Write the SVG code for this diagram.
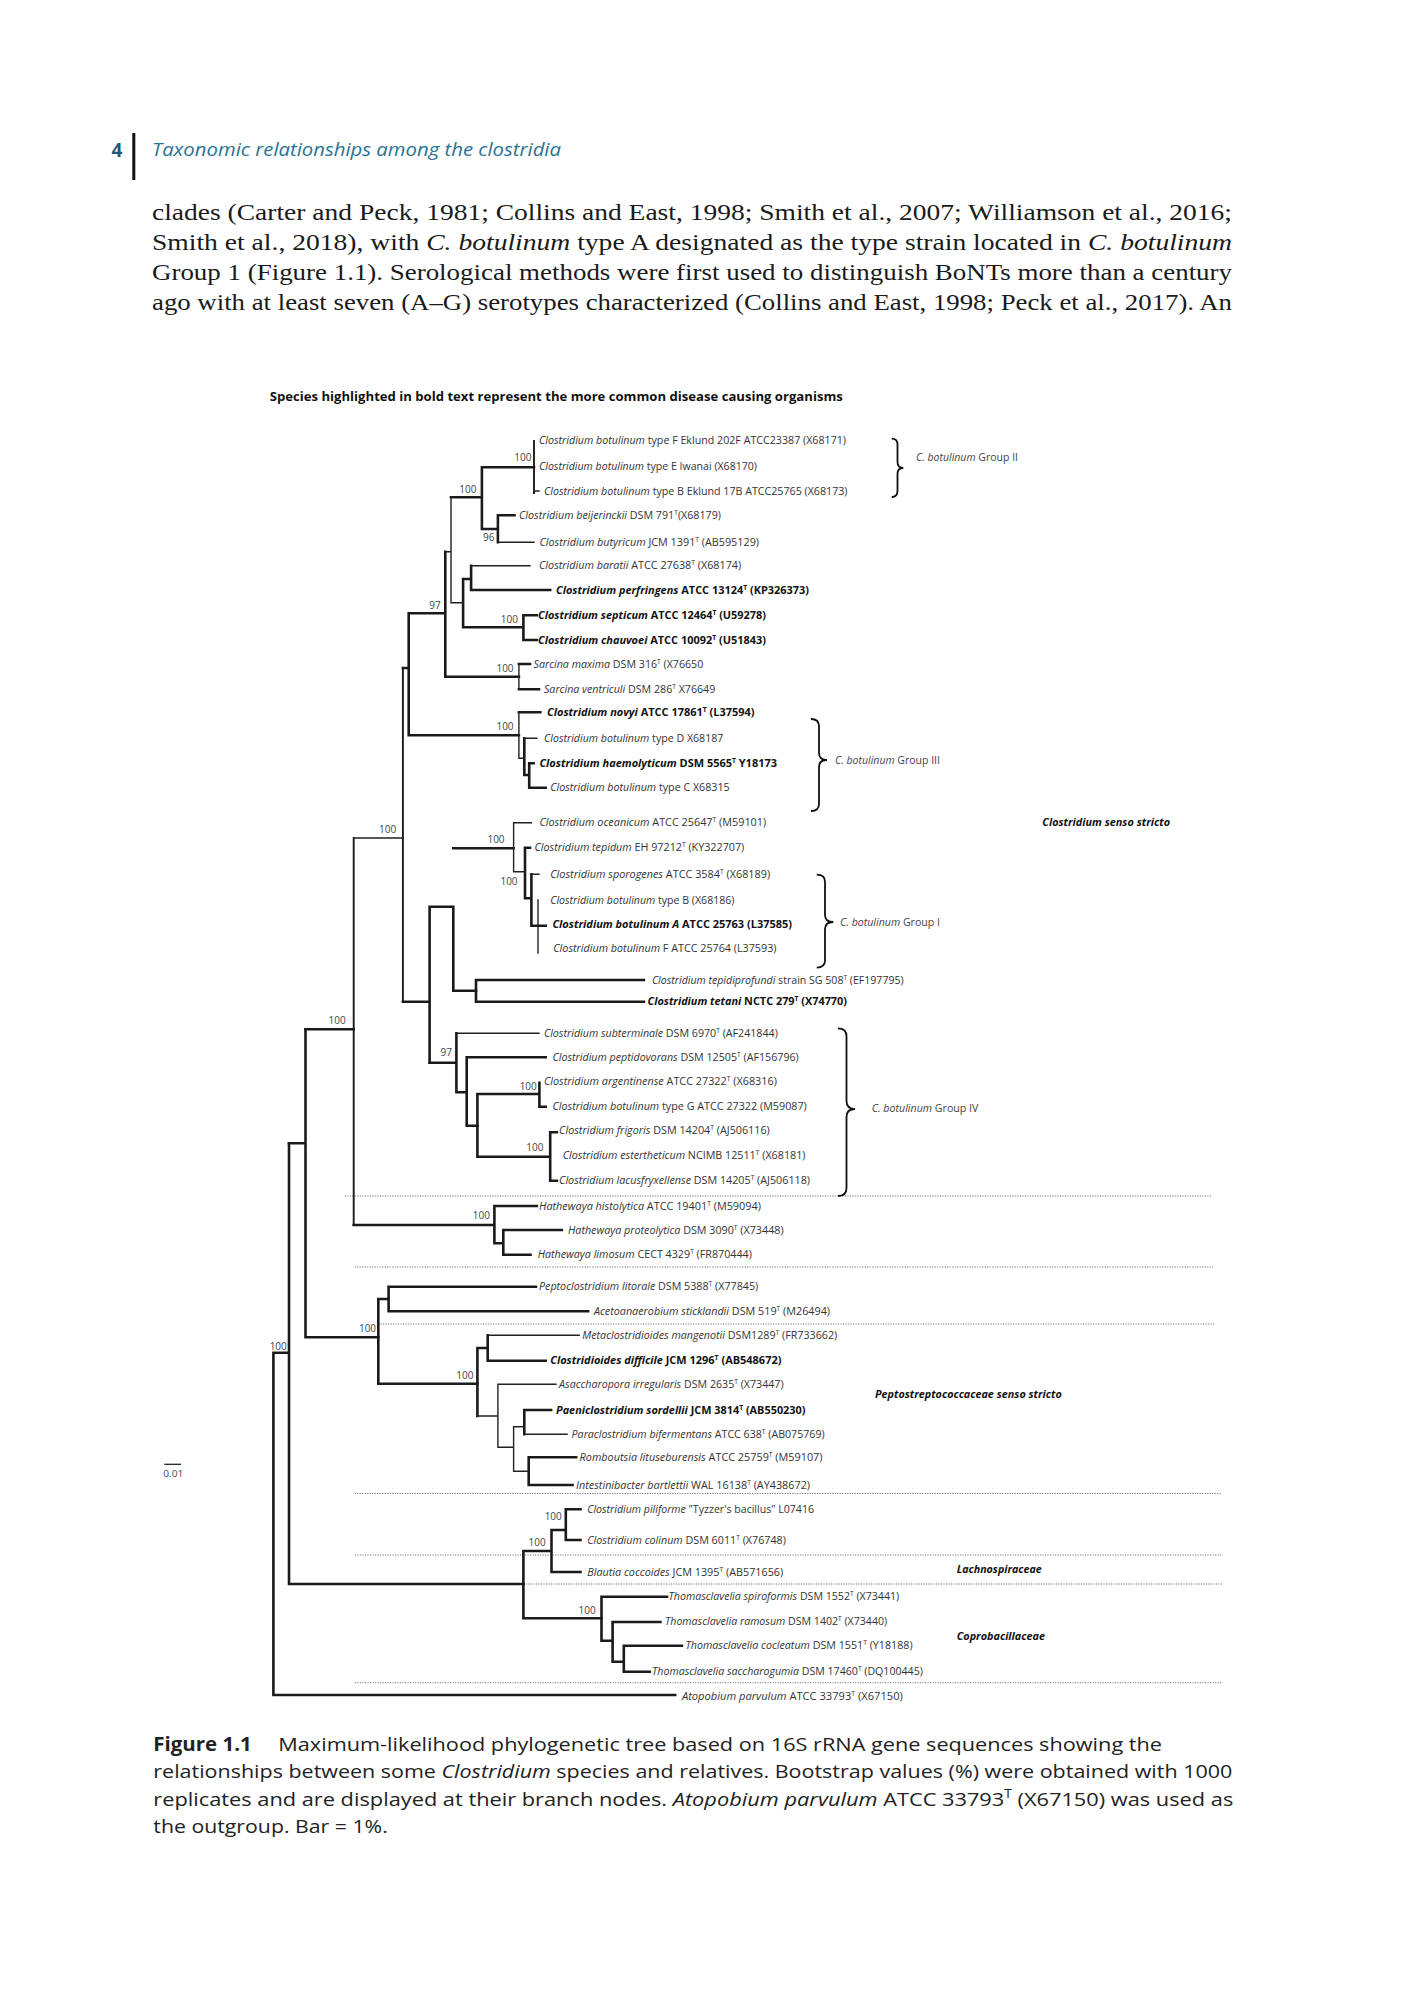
<svg xmlns="http://www.w3.org/2000/svg" width="1402" height="2000" viewBox="0 0 1402 2000">
<style>
.lb{font-family:"Open Sans","Liberation Sans",sans-serif;font-size:10.5px;fill:#333}
.b{font-weight:700;fill:#111}
.i{font-style:italic}
.sup{font-size:6.5px}
.bs{font-family:"Open Sans","Liberation Sans",sans-serif;font-size:10px;fill:#444;text-anchor:end}
.grp{font-family:"Open Sans","Liberation Sans",sans-serif;font-size:10px;fill:#444}
.fam{font-family:"Open Sans","Liberation Sans",sans-serif;font-size:10px;font-weight:700;font-style:italic;fill:#111}
.k{stroke:#1a1a1a;stroke-width:2.6;fill:none;stroke-linecap:square}
.t{stroke:#222;stroke-width:1.4;fill:none;stroke-linecap:square}
.m{stroke:#1a1a1a;stroke-width:1.9;fill:none;stroke-linecap:square}
.dot{stroke:#666;stroke-width:0.9;stroke-dasharray:1.2 1.3;fill:none}
.brace{stroke:#111;stroke-width:1.8;fill:none}
.body{font-family:"Liberation Serif","Times New Roman",serif;font-size:24px;fill:#1a1a1a}
.cap{font-family:"Open Sans","Liberation Sans",sans-serif;font-size:19px;fill:#222}
</style>
<rect width="1402" height="2000" fill="#fff"/>

<g id="page-header">
<text x="111.5" y="157" font-family="Open Sans, Liberation Sans, sans-serif" font-size="19" font-weight="700" fill="#1d5a78">4</text>
<rect x="132.3" y="133" width="3" height="47" fill="#111"/>
<text x="152" y="156" font-family="Open Sans, Liberation Sans, sans-serif" font-size="18" font-style="italic" fill="#2a7393" textLength="409" lengthAdjust="spacingAndGlyphs">Taxonomic relationships among the clostridia</text>
</g>

<g id="body-text">
<text class="body" x="152" y="220" textLength="1080" lengthAdjust="spacingAndGlyphs">clades (Carter and Peck, 1981; Collins and East, 1998; Smith et al., 2007; Williamson et al., 2016;</text>
<text class="body" x="152" y="250" textLength="1080" lengthAdjust="spacingAndGlyphs">Smith et al., 2018), with <tspan font-style="italic">C. botulinum</tspan> type A designated as the type strain located in <tspan font-style="italic">C. botulinum</tspan></text>
<text class="body" x="152" y="280" textLength="1080" lengthAdjust="spacingAndGlyphs">Group 1 (Figure 1.1). Serological methods were first used to distinguish BoNTs more than a century</text>
<text class="body" x="152" y="310" textLength="1080" lengthAdjust="spacingAndGlyphs">ago with at least seven (A–G) serotypes characterized (Collins and East, 1998; Peck et al., 2017). An</text>
</g>

<g id="figure-title">
<text x="269.8" y="400.5" font-family="Open Sans, Liberation Sans, sans-serif" font-size="11.5" font-weight="700" fill="#111" textLength="573" lengthAdjust="spacingAndGlyphs">Species highlighted in bold text represent the more common disease causing organisms</text>
</g>

<g id="separators">
<path class="dot" d="M344.8 1196H1211.7"/>
<path class="dot" d="M354.6 1267H1213"/>
<path class="dot" d="M378 1324H1215"/>
<path class="dot" d="M354.6 1493.5H1220.7"/>
<path class="dot" d="M355 1555H1223"/>
<path class="dot" d="M523.4 1584H1222"/>
<path class="dot" d="M355 1682.7H1221.7"/>
</g>

<g id="branches">
<path class="k" d="M481.9 467.3H534M481.9 467.3V529H497.9M497.9 515.3V542.3M497.9 515.3H514.5M451 497.3H481.9"/>
<path class="k" d="M463.1 579V627.3M463.1 579H471.1M471.1 565.7V590H550.2M463.1 627.3H523.4M523.4 615.3V640M523.4 615.3H536.8M523.4 640H536.8"/>
<path class="k" d="M445.3 551.7V676.7H518.9M408.7 613.3H445.3M518.9 664H530M518.9 689.3H539M408.7 613.3V735.3H518.9M402.9 668H408.7"/>
<path class="k" d="M518.9 712.3H540.3M524.3 738.3V775H529.2M529.2 763.3V787.7H545.7M529.2 763.3H533.6"/>
<path class="m" d="M402.9 668V1001.7"/>
<path class="k" d="M402.9 1001.7H429.6M429.6 906.7V1062.7M429.6 906.7H453.3V990.7H476M453.3 848.3H513.6"/>
<path class="k" d="M525 847.7V898.3H531.4M525 847.7H530M531.4 874.3V925.7H545.7"/>
<path class="k" d="M476 980V1001.7M476 980H643.9M476 1001.7H643.9"/>
<path class="k" d="M429.6 1062.7H456.4M456.4 1033.3V1092.3H466.7M466.7 1057.3V1125.7H477.4M466.7 1057.3H545.7"/>
<path class="k" d="M477.4 1094V1156.7M477.4 1094H539.4M539.4 1082.7V1106.7H545.7M477.4 1156.7H550.2M550.2 1132.3V1180.7M550.2 1132.3H556.9M550.2 1180.7H556.9"/>
<path class="m" d="M353.7 838V1225"/>
<path class="k" d="M353.7 1225H494.4M305.5 1029.3H353.7M494.4 1206V1243.3H503.3M494.4 1206H536.8M503.3 1230V1254.7H530.5M503.3 1230H561.8"/>
<path class="k" d="M305.5 1029.3V1337.3H378.3M289 1143.3H305.5"/>
<path class="k" d="M378.3 1299V1383.7H477.4M378.3 1299H388.6M388.6 1286.7V1311.3H588.1M388.6 1286.7H535.9"/>
<path class="k" d="M477.4 1348V1416M477.4 1348H487.7M487.7 1335.3V1360.7H545.7M524.3 1410V1434.3M524.3 1410H551.1M528.7 1457.3V1485H572.5M528.7 1457.3H576.1"/>
<path class="k" d="M289 1143.3V1584H523.4M273.4 1352.7H289M273.4 1352.7V1695H675.2"/>
<path class="k" d="M523.4 1551V1618.3H601.5M523.4 1551H551.5M551.5 1530V1572H580.5M551.5 1530H565.8M565.8 1509.3V1540H580.5M565.8 1509.3H580.5"/>
<path class="k" d="M601.5 1596.7V1640.7H612.6M601.5 1596.7H667M612.6 1622V1661.7H623.8M612.6 1622H660.4M623.8 1645.7V1671.7H649.7M623.8 1645.7H681.9"/>
<path class="m" d="M534 441V493"/>
<path class="t" d="M534 491H539M497.9 542.3H534M451 497.3V602.7H463.1M471.1 565.7H530M445.3 551.7H451M518.9 664V689.3M518.9 712.3V758.3H524.3M524.3 738.3H536.8"/>
<path class="t" d="M353.7 838H402.9M513.6 822.7V871.7H525M513.6 822.7H531.4M531.4 874.3H539M538 900V953M456.4 1033.3H539"/>
<path class="t" d="M487.7 1335.3H579.2M477.4 1416H497.9M497.9 1384.3V1447.3H513.6M497.9 1384.3H556M513.6 1426.7V1471.3H528.7M513.6 1426.7H524.3M524.3 1434.3H567.1"/>
</g>

<g id="bootstrap">
<text class="bs" x="531.4" y="460.5">100</text>
<text class="bs" x="476.5" y="492.8">100</text>
<text class="bs" x="494.4" y="540.5">96</text>
<text class="bs" x="440.8" y="608.8">97</text>
<text class="bs" x="518" y="622.8">100</text>
<text class="bs" x="513.6" y="671.8">100</text>
<text class="bs" x="513.6" y="729.5">100</text>
<text class="bs" x="396.2" y="833">100</text>
<text class="bs" x="504.6" y="842.8">100</text>
<text class="bs" x="517.6" y="884.5">100</text>
<text class="bs" x="345.7" y="1023.5">100</text>
<text class="bs" x="452" y="1056.2">97</text>
<text class="bs" x="536.8" y="1089.5">100</text>
<text class="bs" x="543.5" y="1150.8">100</text>
<text class="bs" x="489.9" y="1218.5">100</text>
<text class="bs" x="376.1" y="1332.2">100</text>
<text class="bs" x="286.8" y="1349.5">100</text>
<text class="bs" x="473.4" y="1378.5">100</text>
<text class="bs" x="561.8" y="1519.5">100</text>
<text class="bs" x="545.7" y="1546">100</text>
<text class="bs" x="595.7" y="1613.8">100</text>
</g>

<g id="leaf-botF"><text class="lb" x="539" y="443.8" textLength="307" lengthAdjust="spacingAndGlyphs"><tspan class="i">Clostridium botulinum</tspan> type F Eklund 202F ATCC23387 (X68171)</text></g>
<g id="leaf-botE"><text class="lb" x="539" y="469.8" textLength="218" lengthAdjust="spacingAndGlyphs"><tspan class="i">Clostridium botulinum</tspan> type E Iwanai (X68170)</text></g>
<g id="leaf-botB17"><text class="lb" x="544" y="494.5" textLength="303.5" lengthAdjust="spacingAndGlyphs"><tspan class="i">Clostridium botulinum</tspan> type B Eklund 17B ATCC25765 (X68173)</text></g>
<g id="leaf-beijerinckii"><text class="lb" x="519" y="518.8" textLength="202" lengthAdjust="spacingAndGlyphs"><tspan class="i">Clostridium beijerinckii</tspan> DSM 791<tspan class="sup" dy="-4">T</tspan><tspan dy="4">(X68179)</tspan></text></g>
<g id="leaf-butyricum"><text class="lb" x="539.4" y="545.8" textLength="219.6" lengthAdjust="spacingAndGlyphs"><tspan class="i">Clostridium butyricum</tspan> JCM 1391<tspan class="sup" dy="-4">T</tspan><tspan dy="4"> (AB595129)</tspan></text></g>
<g id="leaf-baratii"><text class="lb" x="539" y="569.2" textLength="202.2" lengthAdjust="spacingAndGlyphs"><tspan class="i">Clostridium baratii</tspan> ATCC 27638<tspan class="sup" dy="-4">T</tspan><tspan dy="4"> (X68174)</tspan></text></g>
<g id="leaf-perfringens"><text class="lb b" x="556" y="593.5" textLength="253" lengthAdjust="spacingAndGlyphs"><tspan class="i">Clostridium perfringens</tspan> ATCC 13124<tspan class="sup" dy="-4">T</tspan><tspan dy="4"> (KP326373)</tspan></text></g>
<g id="leaf-septicum"><text class="lb b" x="538" y="618.8" textLength="228" lengthAdjust="spacingAndGlyphs"><tspan class="i">Clostridium septicum</tspan> ATCC 12464<tspan class="sup" dy="-4">T</tspan><tspan dy="4"> (U59278)</tspan></text></g>
<g id="leaf-chauvoei"><text class="lb b" x="538" y="643.5" textLength="228" lengthAdjust="spacingAndGlyphs"><tspan class="i">Clostridium chauvoei</tspan> ATCC 10092<tspan class="sup" dy="-4">T</tspan><tspan dy="4"> (U51843)</tspan></text></g>
<g id="leaf-sarcina-maxima"><text class="lb" x="533.6" y="667.5" textLength="169.7" lengthAdjust="spacingAndGlyphs"><tspan class="i">Sarcina maxima</tspan> DSM 316<tspan class="sup" dy="-4">T</tspan><tspan dy="4"> (X76650</tspan></text></g>
<g id="leaf-sarcina-ventriculi"><text class="lb" x="544" y="692.8" textLength="171.3" lengthAdjust="spacingAndGlyphs"><tspan class="i">Sarcina ventriculi</tspan> DSM 286<tspan class="sup" dy="-4">T</tspan><tspan dy="4"> X76649</tspan></text></g>
<g id="leaf-novyi"><text class="lb b" x="547" y="715.8" textLength="207.6" lengthAdjust="spacingAndGlyphs"><tspan class="i">Clostridium novyi</tspan> ATCC 17861<tspan class="sup" dy="-4">T</tspan><tspan dy="4"> (L37594)</tspan></text></g>
<g id="leaf-botD"><text class="lb" x="544" y="741.8" textLength="179.4" lengthAdjust="spacingAndGlyphs"><tspan class="i">Clostridium botulinum</tspan> type D X68187</text></g>
<g id="leaf-haemolyticum"><text class="lb b" x="539.4" y="766.8" textLength="237.6" lengthAdjust="spacingAndGlyphs"><tspan class="i">Clostridium haemolyticum</tspan> DSM 5565<tspan class="sup" dy="-4">T</tspan><tspan dy="4"> Y18173</tspan></text></g>
<g id="leaf-botC"><text class="lb" x="550.2" y="791.2" textLength="179.4" lengthAdjust="spacingAndGlyphs"><tspan class="i">Clostridium botulinum</tspan> type C X68315</text></g>
<g id="leaf-oceanicum"><text class="lb" x="539.4" y="826.2" textLength="226.8" lengthAdjust="spacingAndGlyphs"><tspan class="i">Clostridium oceanicum</tspan> ATCC 25647<tspan class="sup" dy="-4">T</tspan><tspan dy="4"> (M59101)</tspan></text></g>
<g id="leaf-tepidum"><text class="lb" x="534.5" y="851.2" textLength="209.8" lengthAdjust="spacingAndGlyphs"><tspan class="i">Clostridium tepidum</tspan> EH 97212<tspan class="sup" dy="-4">T</tspan><tspan dy="4"> (KY322707)</tspan></text></g>
<g id="leaf-sporogenes"><text class="lb" x="550.2" y="877.8" textLength="220" lengthAdjust="spacingAndGlyphs"><tspan class="i">Clostridium sporogenes</tspan> ATCC 3584<tspan class="sup" dy="-4">T</tspan><tspan dy="4"> (X68189)</tspan></text></g>
<g id="leaf-botB"><text class="lb" x="550.2" y="903.5" textLength="184.3" lengthAdjust="spacingAndGlyphs"><tspan class="i">Clostridium botulinum</tspan> type B (X68186)</text></g>
<g id="leaf-botA"><text class="lb b" x="552.4" y="927.8" textLength="239.6" lengthAdjust="spacingAndGlyphs"><tspan class="i">Clostridium botulinum A</tspan> ATCC 25763 (L37585)</text></g>
<g id="leaf-botF2"><text class="lb" x="553.3" y="951.8" textLength="223.2" lengthAdjust="spacingAndGlyphs"><tspan class="i">Clostridium botulinum</tspan> F ATCC 25764 (L37593)</text></g>
<g id="leaf-tepidiprofundi"><text class="lb" x="651.9" y="983.5" textLength="251.8" lengthAdjust="spacingAndGlyphs"><tspan class="i">Clostridium tepidiprofundi</tspan> strain SG 508<tspan class="sup" dy="-4">T</tspan><tspan dy="4"> (EF197795)</tspan></text></g>
<g id="leaf-tetani"><text class="lb b" x="647.5" y="1005.2" textLength="199.5" lengthAdjust="spacingAndGlyphs"><tspan class="i">Clostridium tetani</tspan> NCTC 279<tspan class="sup" dy="-4">T</tspan><tspan dy="4"> (X74770)</tspan></text></g>
<g id="leaf-subterminale"><text class="lb" x="543.9" y="1036.8" textLength="233.9" lengthAdjust="spacingAndGlyphs"><tspan class="i">Clostridium subterminale</tspan> DSM 6970<tspan class="sup" dy="-4">T</tspan><tspan dy="4"> (AF241844)</tspan></text></g>
<g id="leaf-peptidovorans"><text class="lb" x="552.4" y="1060.8" textLength="246.4" lengthAdjust="spacingAndGlyphs"><tspan class="i">Clostridium peptidovorans</tspan> DSM 12505<tspan class="sup" dy="-4">T</tspan><tspan dy="4"> (AF156796)</tspan></text></g>
<g id="leaf-argentinense"><text class="lb" x="543.9" y="1084.5" textLength="233" lengthAdjust="spacingAndGlyphs"><tspan class="i">Clostridium argentinense</tspan> ATCC 27322<tspan class="sup" dy="-4">T</tspan><tspan dy="4"> (X68316)</tspan></text></g>
<g id="leaf-botG"><text class="lb" x="552.4" y="1109.5" textLength="254.4" lengthAdjust="spacingAndGlyphs"><tspan class="i">Clostridium botulinum</tspan> type G ATCC 27322 (M59087)</text></g>
<g id="leaf-frigoris"><text class="lb" x="559.1" y="1133.5" textLength="210.7" lengthAdjust="spacingAndGlyphs"><tspan class="i">Clostridium frigoris</tspan> DSM 14204<tspan class="sup" dy="-4">T</tspan><tspan dy="4"> (AJ506116)</tspan></text></g>
<g id="leaf-estertheticum"><text class="lb" x="562.7" y="1158.5" textLength="242.8" lengthAdjust="spacingAndGlyphs"><tspan class="i">Clostridium estertheticum</tspan> NCIMB 12511<tspan class="sup" dy="-4">T</tspan><tspan dy="4"> (X68181)</tspan></text></g>
<g id="leaf-lacusfryxellense"><text class="lb" x="559.1" y="1183.5" textLength="250.9" lengthAdjust="spacingAndGlyphs"><tspan class="i">Clostridium lacusfryxellense</tspan> DSM 14205<tspan class="sup" dy="-4">T</tspan><tspan dy="4"> (AJ506118)</tspan></text></g>
<g id="leaf-histolytica"><text class="lb" x="539" y="1209.5" textLength="221.9" lengthAdjust="spacingAndGlyphs"><tspan class="i">Hathewaya histolytica</tspan> ATCC 19401<tspan class="sup" dy="-4">T</tspan><tspan dy="4"> (M59094)</tspan></text></g>
<g id="leaf-proteolytica"><text class="lb" x="568" y="1233.5" textLength="215.6" lengthAdjust="spacingAndGlyphs"><tspan class="i">Hathewaya proteolytica</tspan> DSM 3090<tspan class="sup" dy="-4">T</tspan><tspan dy="4"> (X73448)</tspan></text></g>
<g id="leaf-limosum"><text class="lb" x="537.7" y="1258.2" textLength="214.2" lengthAdjust="spacingAndGlyphs"><tspan class="i">Hathewaya limosum</tspan> CECT 4329<tspan class="sup" dy="-4">T</tspan><tspan dy="4"> (FR870444)</tspan></text></g>
<g id="leaf-litorale"><text class="lb" x="539" y="1290.2" textLength="219.2" lengthAdjust="spacingAndGlyphs"><tspan class="i">Peptoclostridium litorale</tspan> DSM 5388<tspan class="sup" dy="-4">T</tspan><tspan dy="4"> (X77845)</tspan></text></g>
<g id="leaf-sticklandii"><text class="lb" x="593.9" y="1314.8" textLength="236.1" lengthAdjust="spacingAndGlyphs"><tspan class="i">Acetoanaerobium sticklandii</tspan> DSM 519<tspan class="sup" dy="-4">T</tspan><tspan dy="4"> (M26494)</tspan></text></g>
<g id="leaf-mangenotii"><text class="lb" x="582.3" y="1338.8" textLength="254.9" lengthAdjust="spacingAndGlyphs"><tspan class="i">Metaclostridioides mangenotii</tspan> DSM1289<tspan class="sup" dy="-4">T</tspan><tspan dy="4"> (FR733662)</tspan></text></g>
<g id="leaf-difficile"><text class="lb b" x="550.2" y="1364.2" textLength="231.2" lengthAdjust="spacingAndGlyphs"><tspan class="i">Clostridioides difficile</tspan> JCM 1296<tspan class="sup" dy="-4">T</tspan><tspan dy="4"> (AB548672)</tspan></text></g>
<g id="leaf-irregularis"><text class="lb" x="559.1" y="1387.8" textLength="224.5" lengthAdjust="spacingAndGlyphs"><tspan class="i">Asaccharopora irregularis</tspan> DSM 2635<tspan class="sup" dy="-4">T</tspan><tspan dy="4"> (X73447)</tspan></text></g>
<g id="leaf-sordellii"><text class="lb b" x="556" y="1413.5" textLength="249.5" lengthAdjust="spacingAndGlyphs"><tspan class="i">Paeniclostridium sordellii</tspan> JCM 3814<tspan class="sup" dy="-4">T</tspan><tspan dy="4"> (AB550230)</tspan></text></g>
<g id="leaf-bifermentans"><text class="lb" x="571.6" y="1437.8" textLength="253.1" lengthAdjust="spacingAndGlyphs"><tspan class="i">Paraclostridium bifermentans</tspan> ATCC 638<tspan class="sup" dy="-4">T</tspan><tspan dy="4"> (AB075769)</tspan></text></g>
<g id="leaf-lituseburensis"><text class="lb" x="579.6" y="1460.8" textLength="242.9" lengthAdjust="spacingAndGlyphs"><tspan class="i">Romboutsia lituseburensis</tspan> ATCC 25759<tspan class="sup" dy="-4">T</tspan><tspan dy="4"> (M59107)</tspan></text></g>
<g id="leaf-bartlettii"><text class="lb" x="576.1" y="1488.5" textLength="233.9" lengthAdjust="spacingAndGlyphs"><tspan class="i">Intestinibacter bartlettii</tspan> WAL 16138<tspan class="sup" dy="-4">T</tspan><tspan dy="4"> (AY438672)</tspan></text></g>
<g id="leaf-piliforme"><text class="lb" x="587.2" y="1512.8" textLength="226.8" lengthAdjust="spacingAndGlyphs"><tspan class="i">Clostridium piliforme</tspan> "Tyzzer's bacillus" L07416</text></g>
<g id="leaf-colinum"><text class="lb" x="587.2" y="1543.5" textLength="198.7" lengthAdjust="spacingAndGlyphs"><tspan class="i">Clostridium colinum</tspan> DSM 6011<tspan class="sup" dy="-4">T</tspan><tspan dy="4"> (X76748)</tspan></text></g>
<g id="leaf-coccoides"><text class="lb" x="587.2" y="1575.5" textLength="196" lengthAdjust="spacingAndGlyphs"><tspan class="i">Blautia coccoides</tspan> JCM 1395<tspan class="sup" dy="-4">T</tspan><tspan dy="4"> (AB571656)</tspan></text></g>
<g id="leaf-spiroformis"><text class="lb" x="668.5" y="1599.5" textLength="230.7" lengthAdjust="spacingAndGlyphs"><tspan class="i">Thomasclavelia spiroformis</tspan> DSM 1552<tspan class="sup" dy="-4">T</tspan><tspan dy="4"> (X73441)</tspan></text></g>
<g id="leaf-ramosum"><text class="lb" x="665" y="1625" textLength="222.2" lengthAdjust="spacingAndGlyphs"><tspan class="i">Thomasclavelia ramosum</tspan> DSM 1402<tspan class="sup" dy="-4">T</tspan><tspan dy="4"> (X73440)</tspan></text></g>
<g id="leaf-cocleatum"><text class="lb" x="685.4" y="1649" textLength="227.2" lengthAdjust="spacingAndGlyphs"><tspan class="i">Thomasclavelia cocleatum</tspan> DSM 1551<tspan class="sup" dy="-4">T</tspan><tspan dy="4"> (Y18188)</tspan></text></g>
<g id="leaf-saccharogumia"><text class="lb" x="652" y="1674.5" textLength="270.9" lengthAdjust="spacingAndGlyphs"><tspan class="i">Thomasclavelia saccharogumia</tspan> DSM 17460<tspan class="sup" dy="-4">T</tspan><tspan dy="4"> (DQ100445)</tspan></text></g>
<g id="leaf-atopobium"><text class="lb" x="681.9" y="1699.5" textLength="220.9" lengthAdjust="spacingAndGlyphs"><tspan class="i">Atopobium parvulum</tspan> ATCC 33793<tspan class="sup" dy="-4">T</tspan><tspan dy="4"> (X67150)</tspan></text></g>

<g id="group-II">
<path class="brace" d="M891.7 438.6Q897.5 438.6 897.5 444.6L897.5 462Q897.5 468 903.3 468Q897.5 468 897.5 474L897.5 491Q897.5 497 891.7 497"/>
<text class="grp" x="916" y="461" textLength="102" lengthAdjust="spacingAndGlyphs"><tspan class="i">C. botulinum</tspan> Group II</text>
</g>
<g id="group-III">
<path class="brace" d="M811 719Q819 719 819 726L819 753Q819 760 827 760Q819 760 819 767L819 804Q819 811 811 811"/>
<text class="grp" x="835" y="763.5" textLength="105" lengthAdjust="spacingAndGlyphs"><tspan class="i">C. botulinum</tspan> Group III</text>
</g>
<g id="group-I">
<path class="brace" d="M816.7 874.7Q825 874.7 825 881.7L825 915Q825 922 833.3 922Q825 922 825 929L825 960.6Q825 967.6 816.7 967.6"/>
<text class="grp" x="840" y="925.5" textLength="100" lengthAdjust="spacingAndGlyphs"><tspan class="i">C. botulinum</tspan> Group I</text>
</g>
<g id="group-IV">
<path class="brace" d="M838 1028.3Q846.5 1028.3 846.5 1036.3L846.5 1101Q846.5 1109 855 1109Q846.5 1109 846.5 1117L846.5 1188Q846.5 1196 838 1196"/>
<text class="grp" x="871.7" y="1112" textLength="106.7" lengthAdjust="spacingAndGlyphs"><tspan class="i">C. botulinum</tspan> Group IV</text>
</g>

<g id="families">
<text class="fam" x="1042.3" y="826" textLength="127.7" lengthAdjust="spacingAndGlyphs">Clostridium senso stricto</text>
<text class="fam" x="875" y="1397.5" textLength="186.7" lengthAdjust="spacingAndGlyphs">Peptostreptococcaceae senso stricto</text>
<text class="fam" x="956.7" y="1573" textLength="85" lengthAdjust="spacingAndGlyphs">Lachnospiraceae</text>
<text class="fam" x="956.7" y="1639.5" textLength="88.3" lengthAdjust="spacingAndGlyphs">Coprobacillaceae</text>
</g>

<g id="scale-bar">
<path d="M164.3 1464.3H181" stroke="#222" stroke-width="1.3"/>
<text x="163.3" y="1476.5" font-family="Open Sans, Liberation Sans, sans-serif" font-size="9" fill="#444" textLength="20" lengthAdjust="spacingAndGlyphs">0.01</text>
</g>

<g id="caption">
<text class="cap" x="153.3" y="1750.5" font-weight="700" fill="#1e6b91" textLength="98.4" lengthAdjust="spacingAndGlyphs">Figure 1.1</text>
<text class="cap" x="278.3" y="1750.5" textLength="883.7" lengthAdjust="spacingAndGlyphs">Maximum-likelihood phylogenetic tree based on 16S rRNA gene sequences showing the</text>
<text class="cap" x="153.3" y="1777.5" textLength="1079" lengthAdjust="spacingAndGlyphs">relationships between some <tspan font-style="italic">Clostridium</tspan> species and relatives. Bootstrap values (%) were obtained with 1000</text>
<text class="cap" x="153.3" y="1805.5" textLength="1080" lengthAdjust="spacingAndGlyphs">replicates and are displayed at their branch nodes. <tspan font-style="italic">Atopobium parvulum</tspan> ATCC 33793<tspan font-size="12" dy="-8">T</tspan><tspan dy="8"> (X67150) was used as</tspan></text>
<text class="cap" x="153.3" y="1833" textLength="234.5" lengthAdjust="spacingAndGlyphs">the outgroup. Bar = 1%.</text>
</g>
</svg>
